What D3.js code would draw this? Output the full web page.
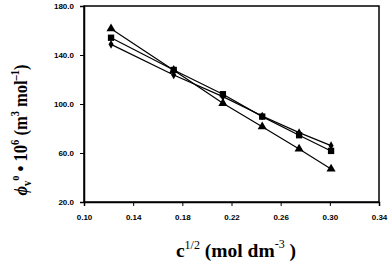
<!DOCTYPE html>
<html>
<head>
<meta charset="utf-8">
<script src="https://cdn.jsdelivr.net/npm/d3@7"></script>
<style>
  body { margin: 0; background: #fff; }
  text { fill: #000; }
</style>
</head>
<body>
<script>
const width = 391;
const height = 263;

// c^1/2 values
const xVals = [0.122, 0.173, 0.213, 0.245, 0.275, 0.301];
// phi_v values for each series
const triangleVals = [161.5, 127.5, 100.6, 81.5, 63.3, 47.0];
const squareVals = [154.1, 127.8, 108.0, 89.7, 74.5, 61.7];
const diamondVals = [148.7, 123.7, 106.0, 90.2, 76.6, 66.0];

const xTicks = [0.10, 0.14, 0.18, 0.22, 0.26, 0.30, 0.34];
const yTicks = [20, 60, 100, 140, 180];

const margin = { left: 84, right: 12, top: 6, bottom: 61 };

const x = d3.scaleLinear().domain([0.10, 0.34]).range([margin.left, width - margin.right]);
const y = d3.scaleLinear().domain([20, 180]).range([height - margin.bottom, margin.top]);

const svg = d3.select("body").append("svg")
  .attr("width", width)
  .attr("height", height);

// frame
svg.append("rect")
  .attr("x", x(0.10)).attr("y", y(180))
  .attr("width", x(0.34) - x(0.10)).attr("height", y(20) - y(180))
  .attr("fill", "none").attr("stroke", "#000").attr("stroke-width", 1.5);

const xAxis = svg.append("g")
  .attr("transform", `translate(0,${y(20)})`)
  .call(d3.axisBottom(x).tickValues(xTicks).tickSize(4).tickPadding(8).tickFormat(d3.format(".2f")));

const yAxis = svg.append("g")
  .attr("transform", `translate(${x(0.10)},0)`)
  .call(d3.axisLeft(y).tickValues(yTicks).tickSize(4).tickPadding(6).tickFormat(d3.format(".1f")));

[xAxis, yAxis].forEach(g => {
  g.select(".domain").attr("stroke-width", 1.5);
  g.selectAll(".tick line").attr("stroke-width", 1);
  g.selectAll("text")
    .attr("font-family", "Liberation Sans, Arial, sans-serif")
    .attr("font-weight", "bold")
    .attr("font-size", 8)
    .attr("fill", "#000");
});

const line = d3.line()
  .x((d, i) => x(xVals[i]))
  .y(d => y(d));

const series = [
  { vals: triangleVals, sym: d3.symbolTriangle, size: 36 },
  { vals: squareVals, sym: d3.symbolSquare, size: 40 },
  { vals: diamondVals, sym: d3.symbolDiamond, size: 22 }
];

series.forEach(s => {
  svg.append("path")
    .datum(s.vals)
    .attr("d", line)
    .attr("fill", "none")
    .attr("stroke", "#000")
    .attr("stroke-width", 1.2);
});

series.forEach(s => {
  svg.append("g").selectAll("path")
    .data(s.vals)
    .join("path")
    .attr("transform", (d, i) => `translate(${x(xVals[i])},${y(d)})`)
    .attr("d", d3.symbol().type(s.sym).size(s.size))
    .attr("fill", "#000");
});

// y axis title (slightly condensed along its length)
const yTitle = svg.append("text")
  .attr("transform", "translate(27,130) rotate(-90) scale(0.87,1)")
  .attr("text-anchor", "middle")
  .attr("font-family", "Liberation Serif, Times New Roman, serif")
  .attr("font-weight", "bold")
  .attr("font-size", 19);
yTitle.append("tspan").attr("font-style", "italic").text("\u03D5");
yTitle.append("tspan").attr("font-size", 12).attr("dy", 4).text("v");
yTitle.append("tspan").attr("font-size", 12).attr("dy", -12).text("o");
yTitle.append("tspan").attr("dy", 8).text(" \u2022 10");
yTitle.append("tspan").attr("font-size", 12).attr("dy", -8).text("6");
yTitle.append("tspan").attr("dy", 8).text(" (m");
yTitle.append("tspan").attr("font-size", 12).attr("dy", -8).text("3");
yTitle.append("tspan").attr("dy", 8).text(" mol");
yTitle.append("tspan").attr("font-size", 12).attr("dy", -8).text("\u20131");
yTitle.append("tspan").attr("dy", 8).text(")");

// x axis title
const xTitle = svg.append("text")
  .attr("x", 236)
  .attr("y", 257)
  .attr("text-anchor", "middle")
  .attr("font-family", "Liberation Serif, Times New Roman, serif")
  .attr("font-weight", "bold")
  .attr("font-size", 19.5);
xTitle.append("tspan").text("c");
xTitle.append("tspan").attr("font-size", 12).attr("font-weight", "normal").attr("dy", -8).text("1/2");
xTitle.append("tspan").attr("dy", 8).text(" (mol dm");
xTitle.append("tspan").attr("font-size", 12).attr("font-weight", "normal").attr("dy", -9).text("-3");
xTitle.append("tspan").attr("dy", 9).text(" )");
</script>
</body>
</html>
